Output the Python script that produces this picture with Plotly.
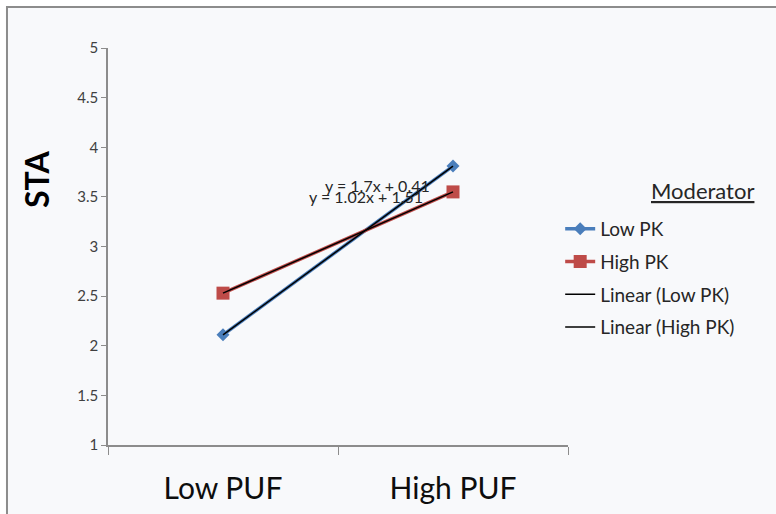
import numpy as np
import plotly.graph_objects as go

categories = ["Low PUF", "High PUF"]
low_pk = [2.11, 3.81]
high_pk = [2.53, 3.55]
series_names = ["Low PK", "High PK"]
y_ticks = [1, 1.5, 2, 2.5, 3, 3.5, 4, 4.5, 5]
y_tick_labels = ["1", "1.5", "2", "2.5", "3", "3.5", "4", "4.5", "5"]

BLUE = "#4a7ebb"
RED = "#be4b48"
FONT = "Lato, Open Sans, sans-serif"

xs = np.arange(1, len(categories) + 1)
fit_low = np.polyfit(xs, low_pk, 1)
fit_high = np.polyfit(xs, high_pk, 1)


def eq(f):
    return f"y = {f[0]:g}x + {f[1]:g}"


fig = go.Figure()
fig.add_trace(go.Scatter(
    x=categories, y=low_pk, name=series_names[0], mode="lines+markers",
    line=dict(color=BLUE, width=3.5),
    marker=dict(symbol="diamond", size=10, color=BLUE),
    legendgroup="a",
))
fig.add_trace(go.Scatter(
    x=categories, y=high_pk, name=series_names[1], mode="lines+markers",
    line=dict(color=RED, width=3.5),
    marker=dict(symbol="square", size=13, color=RED),
    legendgroup="b",
))
fig.add_trace(go.Scatter(
    x=categories, y=list(np.polyval(fit_low, xs)), name="Linear (Low PK)",
    mode="lines", line=dict(color="black", width=1.5), legendgroup="c",
))
fig.add_trace(go.Scatter(
    x=categories, y=list(np.polyval(fit_high, xs)), name="Linear (High PK)",
    mode="lines", line=dict(color="black", width=1.5), legendgroup="d",
))

# frame background
fig.add_shape(type="rect", xref="paper", yref="paper",
              x0=-0.2196, x1=1.5, y0=-0.25, y1=1.1033,
              fillcolor="#f8f9fb", line=dict(color="#8c8c8c", width=2),
              layer="below")

fig.add_annotation(x=0.67, y=3.61, xref="x", yref="y", xanchor="center",
                   text=eq(fit_low), showarrow=False,
                   font=dict(family=FONT, size=16, color="#262626"))
fig.add_annotation(x=0.622, y=3.50, xref="x", yref="y", xanchor="center",
                   text=eq(fit_high), showarrow=False,
                   font=dict(family=FONT, size=16, color="#262626"))

# legend title
fig.add_annotation(x=(702 - 108) / 460, y=(445 - 190) / 397,
                   xref="paper", yref="paper", xanchor="center", yanchor="middle",
                   text="<u>Moderator</u>", showarrow=False,
                   font=dict(family=FONT, size=22, color="#262626"))

# y axis title
fig.add_annotation(x=(36 - 108) / 460, y=(445 - 180) / 397,
                   xref="paper", yref="paper", xanchor="center", yanchor="middle",
                   text="<b>STA</b>", showarrow=False, textangle=-90,
                   font=dict(family=FONT, size=32, color="black"))

fig.update_layout(
    width=776, height=514,
    margin=dict(l=108, r=208, t=48, b=69, autoexpand=False),
    paper_bgcolor="white",
    plot_bgcolor="rgba(0,0,0,0)",
    font=dict(family=FONT, color="#262626"),
    showlegend=True,
    legend=dict(
        x=0.983, xanchor="left", y=0.592, yanchor="top",
        bgcolor="rgba(0,0,0,0)",
        font=dict(family=FONT, size=19, color="#262626"),
        tracegroupgap=5,
    ),
    xaxis=dict(
        type="category", range=[-0.5, 1.5], tickson="boundaries",
        ticks="outside", ticklen=8, tickcolor="#8c8c8c",
        showline=True, linecolor="#8c8c8c", linewidth=1.5,
        showgrid=False, zeroline=False, ticklabelstandoff=16,
        automargin=False,
        tickfont=dict(family=FONT, size=30, color="#0d0d0d"),
    ),
    yaxis=dict(
        range=[1, 5], tickvals=y_ticks, ticktext=y_tick_labels,
        ticks="outside", ticklen=5, tickcolor="#8c8c8c",
        showline=True, linecolor="#8c8c8c", linewidth=1.5,
        showgrid=False, zeroline=False, automargin=False,
        tickfont=dict(family=FONT, size=15, color="#404040"),
    ),
)

fig.write_html(
    "out.html",
    config={"displayModeBar": False},
    post_script="document.body.style.margin='0';document.body.style.overflow='hidden';",
)
